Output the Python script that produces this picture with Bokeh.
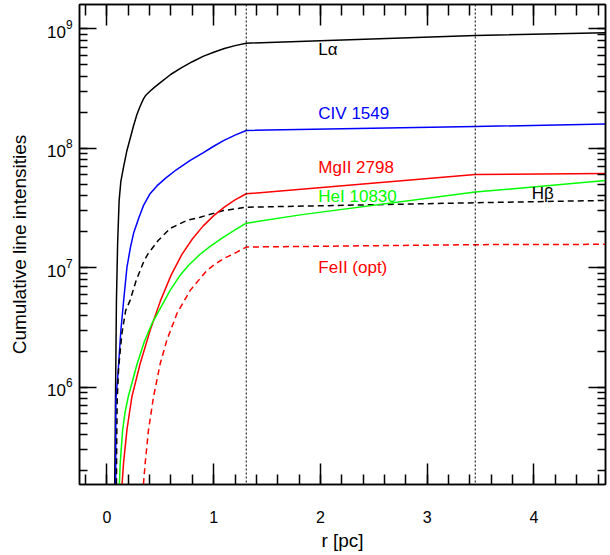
from bokeh.plotting import figure
from bokeh.models import (Span, LinearAxis, LogAxis, SingleIntervalTicker, LogTicker,
                          CustomJSTickFormatter, Range1d)
from bokeh.core.properties import value
from bokeh.embed import file_html
from bokeh.resources import INLINE

# ---- data ----
r_lya = [0.073, 0.080, 0.089, 0.100, 0.114, 0.130, 0.155, 0.187, 0.220, 0.250, 0.280, 0.310,
         0.340, 0.360, 0.400, 0.450, 0.500, 0.600, 0.700, 0.800, 0.900, 1.000, 1.100, 1.200,
         1.305, 3.45, 4.67]
i_lya = [1.54e5, 7.76e5, 5.37e6, 1.58e7, 3.63e7, 5.25e7, 6.92e7, 9.55e7, 1.23e8, 1.55e8, 1.91e8, 2.24e8,
         2.57e8, 2.75e8, 2.99e8, 3.27e8, 3.55e8, 4.17e8, 4.73e8, 5.31e8, 5.89e8, 6.38e8, 6.84e8, 7.24e8,
         7.59e8, 8.79e8, 9.27e8]

r_civ = [0.082, 0.084, 0.108, 0.130, 0.157, 0.187, 0.220, 0.250, 0.300, 0.342, 0.400, 0.468,
         0.550, 0.650, 0.780, 0.900, 1.000, 1.092, 1.200, 1.305, 3.45, 4.67]
i_civ = [1.54e5, 7.76e5, 1.48e6, 2.95e6, 5.37e6, 1.0e7, 1.48e7, 1.95e7, 2.63e7, 3.31e7, 4.12e7, 4.84e7,
         5.62e7, 6.61e7, 7.91e7, 9.16e7, 1.04e8, 1.16e8, 1.29e8, 1.41e8, 1.52e8, 1.60e8]

r_hb = [0.089, 0.092, 0.096, 0.110, 0.140, 0.175, 0.217, 0.274, 0.349, 0.386, 0.480, 0.592,
        0.749, 0.873, 1.092, 1.305, 3.45, 4.67]
i_hb = [1.54e5, 3.82e5, 7.76e5, 1.47e6, 2.80e6, 4.37e6, 5.33e6, 7.83e6, 1.15e7, 1.31e7, 1.69e7, 2.13e7,
        2.49e7, 2.65e7, 3.01e7, 3.21e7, 3.50e7, 3.66e7]

r_mg = [0.142, 0.155, 0.187, 0.233, 0.311, 0.405, 0.500, 0.600, 0.700, 0.800, 0.900, 1.000,
        1.100, 1.200, 1.305, 3.45, 4.67]
i_mg = [1.54e5, 2.29e5, 4.36e5, 8.26e5, 1.57e6, 2.99e6, 5.25e6, 8.63e6, 1.28e7, 1.74e7, 2.23e7, 2.73e7,
        3.22e7, 3.70e7, 4.16e7, 6.04e7, 6.15e7]

r_he = [0.117, 0.124, 0.147, 0.170, 0.199, 0.283, 0.350, 0.421, 0.592, 0.680, 0.765, 0.870,
        0.967, 1.092, 1.200, 1.305, 1.81, 3.45, 4.67]
i_he = [1.54e5, 2.29e5, 4.36e5, 6.17e5, 8.26e5, 1.57e6, 2.40e6, 3.40e6, 6.46e6, 8.51e6, 1.05e7, 1.29e7,
        1.51e7, 1.80e7, 2.07e7, 2.36e7, 2.77e7, 4.30e7, 5.37e7]

r_fe = [0.342, 0.358, 0.389, 0.436, 0.499, 0.561, 0.655, 0.780, 0.936, 1.000, 1.092, 1.217,
        1.305, 3.45, 4.67]
i_fe = [1.54e5, 2.29e5, 4.36e5, 8.26e5, 1.57e6, 2.47e6, 4.12e6, 6.46e6, 9.49e6, 1.05e7, 1.19e7, 1.35e7,
        1.49e7, 1.56e7, 1.57e7]

vlines = [1.305, 3.45]

label_text = ["L\u03b1", "CIV 1549", "MgII 2798", "HeI 10830", "H\u03b2", "FeII (opt)"]
label_r = [1.98, 1.98, 1.98, 1.98, 3.98, 1.98]
label_i = [6.72e8, 1.95e8, 6.92e7, 3.95e7, 4.19e7, 1.01e7]
label_color = ["black", "blue", "red", "#00ff00", "black", "red"]

x_lo, x_hi = -0.257, 4.67
y_lo, y_hi = 1.53e5, 1.6e9

# ---- figure ----
p = figure(width=610, height=555, x_range=Range1d(x_lo, x_hi), y_range=Range1d(y_lo, y_hi),
           y_axis_type="log", output_backend="svg", toolbar_location=None,
           min_border_left=79, min_border_right=5, min_border_top=4, min_border_bottom=71)
p.grid.visible = False
p.outline_line_color = "black"
p.outline_line_width = 1.5
p.background_fill_color = "white"
p.border_fill_color = "white"

xt = SingleIntervalTicker(interval=1, num_minor_ticks=5)
yt = LogTicker(num_minor_ticks=10)

ax = p.xaxis[0]
ax.ticker = xt
ax.axis_label = "r [pc]"
ay = p.yaxis[0]
ay.ticker = yt
ay.axis_label = "Cumulative line intensities"

ax.major_tick_in = 21
ax.major_tick_out = 0
ax.minor_tick_in = 10
ax.minor_tick_out = 0
ax.major_label_standoff = 26
ax.axis_label_standoff = 4
ax.major_label_text_font = "Liberation Sans"
ax.major_label_text_font_size = "16px"
ax.axis_label_text_font = "Liberation Sans"
ax.axis_label_text_font_size = "19px"
ax.axis_label_text_font_style = "normal"

ay.major_tick_in = 17
ay.major_tick_out = 0
ay.minor_tick_in = 8
ay.minor_tick_out = 0
ay.major_label_standoff = 7
ay.axis_label_standoff = 14
ay.major_label_text_font = "Liberation Sans"
ay.major_label_text_font_size = "17px"
ay.axis_label_text_font = "Liberation Sans"
ay.axis_label_text_font_size = "19px"
ay.axis_label_text_font_style = "normal"

blank = CustomJSTickFormatter(code="return ''")
top = LinearAxis(ticker=xt, formatter=blank, major_tick_in=21, major_tick_out=0,
                 minor_tick_in=11, minor_tick_out=0, major_label_standoff=0)
right = LogAxis(ticker=yt, formatter=blank, major_tick_in=17, major_tick_out=0,
                minor_tick_in=8, minor_tick_out=0, major_label_standoff=0)
p.add_layout(top, "above")
p.add_layout(right, "right")
for a in (ax, ay, top, right):
    a.axis_line_width = 1.5
    a.major_tick_line_width = 1.5
    a.minor_tick_line_width = 1.5
    a.axis_line_color = "black"
    a.major_tick_line_color = "black"
    a.minor_tick_line_color = "black"
    a.major_label_text_color = "black"
    a.axis_label_text_color = "black"

for loc in vlines:
    p.add_layout(Span(location=loc, dimension="height", line_color="black",
                      line_width=1, line_dash="2 2"))

lw = 1.5
p.line(r_lya, i_lya, line_color="black", line_width=lw)
p.line(r_civ, i_civ, line_color="blue", line_width=lw)
p.line(r_hb, i_hb, line_color="black", line_width=lw, line_dash="6 4")
p.line(r_mg, i_mg, line_color="red", line_width=lw)
p.line(r_he, i_he, line_color="#00ff00", line_width=lw)
p.line(r_fe, i_fe, line_color="red", line_width=lw, line_dash="6 4")

p.text(x=label_r, y=label_i, text=label_text, text_color=label_color,
       text_font=value("Liberation Sans"), text_font_size="17px",
       text_baseline="alphabetic", text_align="left")

open("out.html", "w").write(file_html(p, INLINE))
